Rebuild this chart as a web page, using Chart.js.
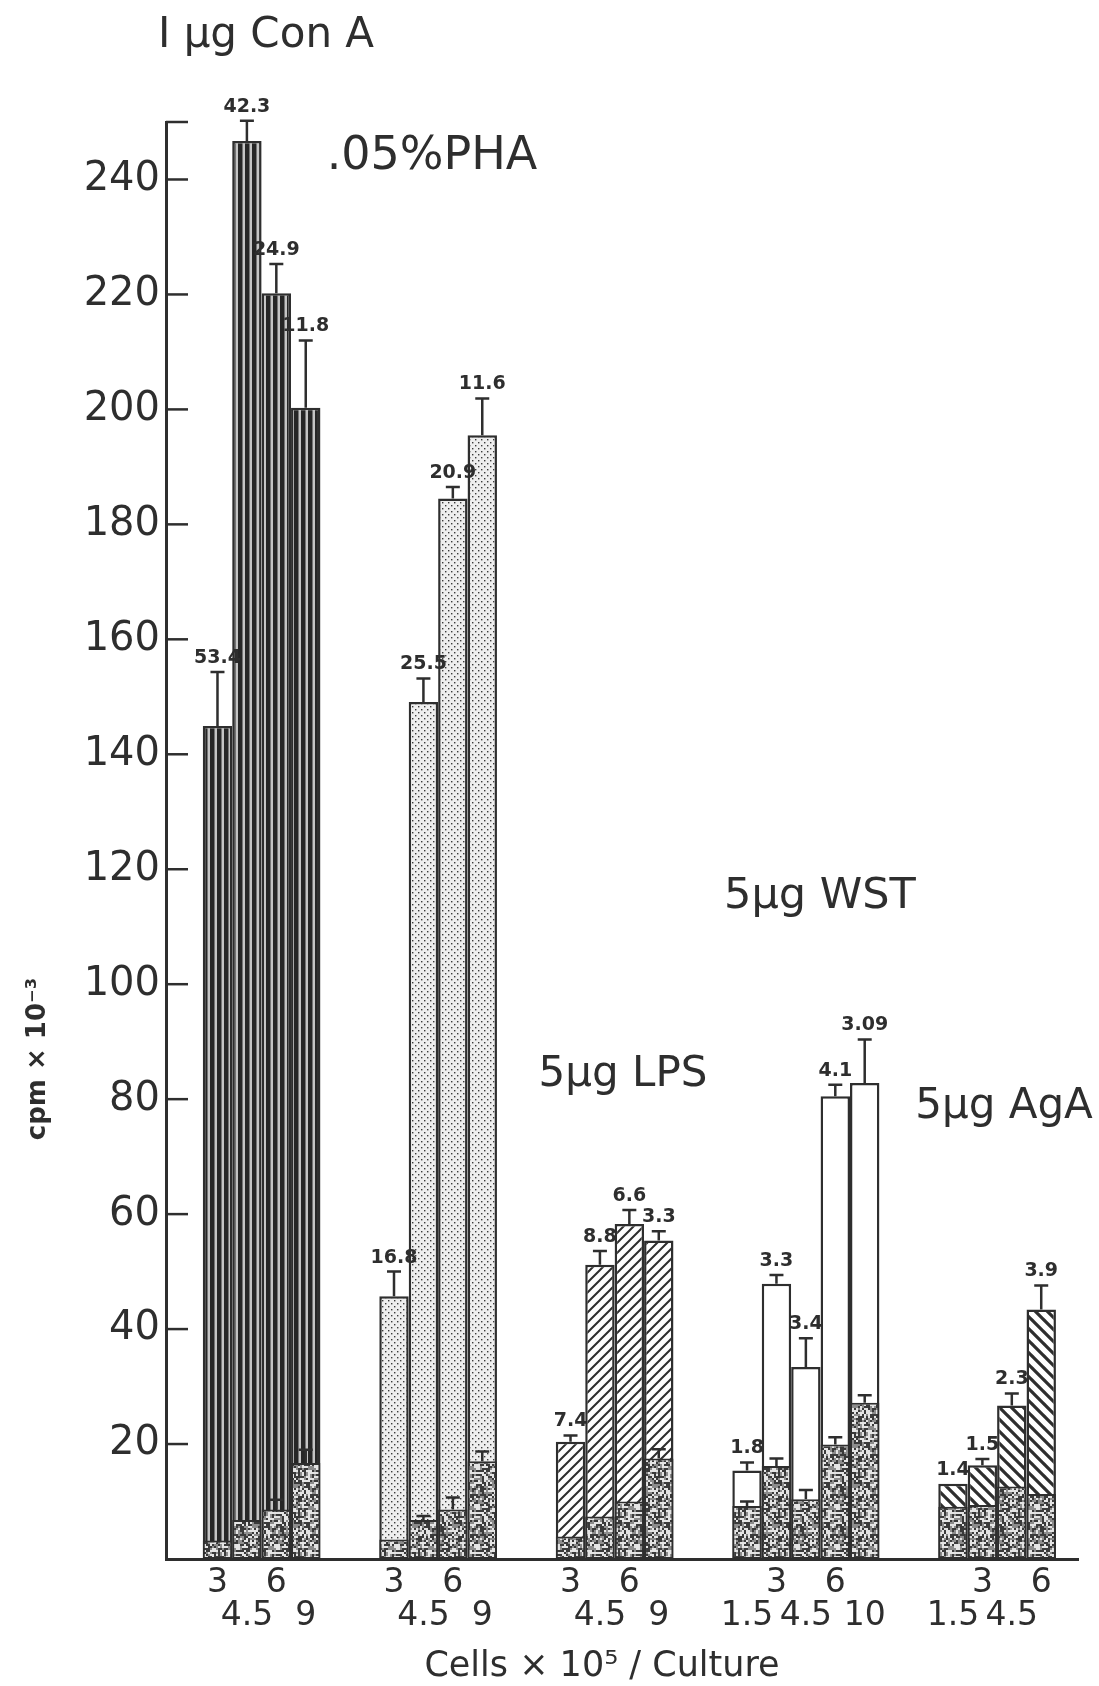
<!DOCTYPE html>
<html>
<head>
<meta charset="utf-8">
<script src="https://cdn.jsdelivr.net/npm/chart.js@4.4.1/dist/chart.umd.min.js"></script>
<style>
  html, body { margin: 0; padding: 0; background: #ffffff; }
  #wrap { width: 1099px; height: 1686px; position: relative; }
  canvas { display: block; }
</style>
</head>
<body>
<div id="wrap"><canvas id="c" width="1099" height="1686"></canvas></div>
<script>
// ---------------- DATA ----------------
const groupNames = ['I µg Con A', '.05%PHA', '5µg LPS', '5µg WST', '5µg AgA'];
const cellCounts = [
  ['3', '4.5', '6', '9'],
  ['3', '4.5', '6', '9'],
  ['3', '4.5', '6', '9'],
  ['1.5', '3', '4.5', '6', '10'],
  ['1.5', '3', '4.5', '6']
];
// 0 = upper row of tick labels, 1 = lower row
const tickRow = [
  [0, 1, 0, 1],
  [0, 1, 0, 1],
  [0, 1, 0, 1],
  [1, 0, 1, 0, 1],
  [1, 0, 1, 0]
];
// stimulated cultures (cpm x 10^-3)
const stimMean = [
  [144.9, 246.7, 220.2, 200.3],
  [45.7, 149.1, 184.5, 195.5],
  [20.4, 51.2, 58.3, 55.4],
  [15.4, 47.9, 33.4, 80.5, 82.8],
  [13.1, 16.3, 26.7, 43.4]
];
const stimErr = [
  [9.4, 3.5, 5.1, 11.7],
  [4.3, 4.1, 2.0, 6.4],
  [1.1, 2.4, 2.4, 1.6],
  [1.4, 1.5, 5.0, 2.0, 7.6],
  [0, 1.1, 2.1, 4.2]
];
// stimulation index printed over each bar
const stimIndexText = [
  ['53.4', '42.3', '24.9', '11.8'],
  ['16.8', '25.5', '20.9', '11.6'],
  ['7.4', '8.8', '6.6', '3.3'],
  ['1.8', '3.3', '3.4', '4.1', '3.09'],
  ['1.4', '1.5', '2.3', '3.9']
];
// unstimulated control cultures (cpm x 10^-3)
const ctrlMean = [
  [3.2, 6.8, 8.6, 16.7],
  [3.4, 6.8, 8.6, 17.0],
  [3.9, 7.4, 10.0, 17.5],
  [9.2, 16.2, 10.4, 19.9, 27.2],
  [9.1, 9.4, 12.6, 11.3]
];
const ctrlErr = [
  [0, 0, 1.7, 2.3],
  [0, 0.7, 2.1, 1.7],
  [0, 0, 0, 1.6],
  [0.8, 1.3, 1.6, 1.3, 1.3],
  [0, 0, 0, 0]
];
const yTickValues = [0, 20, 40, 60, 80, 100, 120, 140, 160, 180, 200, 220, 240, 250];
const yTickText   = ['', '20', '40', '60', '80', '100', '120', '140', '160', '180', '200', '220', '240', ''];
const yMax = 250;

// ---------------- LAYOUT / STYLE ----------------
const INK = '#2e2e2e';
const FONT = '"DejaVu Sans", "Liberation Sans", sans-serif';
const leadSlots = 3;           // half-bar slots before the first bar centre
const gapSlots = [4, 4, 4, 4]; // half-bar slots between groups
const totalSlots = 62;

function tile(w, h, fn) {
  const c = document.createElement('canvas');
  c.width = w; c.height = h;
  const g = c.getContext('2d');
  fn(g, w, h);
  return g.createPattern(c, 'repeat');
}
const patVertical = tile(7, 7, (g) => {
  g.fillStyle = '#c4c4c4'; g.fillRect(0, 0, 7, 7);
  g.fillStyle = '#262626'; g.fillRect(0, 0, 4.5, 7);
});
const patDots = tile(6, 6, (g) => {
  g.fillStyle = '#eeeeee'; g.fillRect(0, 0, 6, 6);
  g.fillStyle = '#3a3a3a';
  g.fillRect(1, 1, 1.4, 1.4); g.fillRect(4, 4, 1.4, 1.4);
});
function hatch(size, lw, dir) {
  return tile(size, size, (g, w) => {
    g.fillStyle = '#ffffff'; g.fillRect(0, 0, w, w);
    g.strokeStyle = INK; g.lineWidth = lw; g.lineCap = 'square';
    g.beginPath();
    for (let o = -w; o <= w; o += w) {
      if (dir > 0) { g.moveTo(o - 1, w + 1); g.lineTo(o + w + 1, -1); }
      else { g.moveTo(o - 1, -1); g.lineTo(o + w + 1, w + 1); }
    }
    g.stroke();
  });
}
const patHatchUp = hatch(10, 2, 1);
const patHatchDown = hatch(12, 3.2, -1);
const patSpeckle = tile(40, 40, (g) => {
  for (let y = 0; y < 40; y += 2) {
    for (let x = 0; x < 40; x += 2) {
      let h = Math.imul(x + 7, 374761393) + Math.imul(y + 3, 668265263);
      h = Math.imul(h ^ (h >>> 13), 1274126177);
      h ^= h >>> 16;
      const v = (h >>> 0) / 4294967296;
      g.fillStyle = v < 0.38 ? '#3a3a3a' : (v < 0.68 ? '#8c8c8c' : '#e4e4e4');
      g.fillRect(x, y, 2, 2);
    }
  }
});
const groupFill = [patVertical, patDots, patHatchUp, '#ffffff', patHatchDown];

// ---------------- BUILD CATEGORY TABLE ----------------
const labels = [];
for (let i = 0; i < totalSlots; i++) labels.push(['', '']);
const stimData = new Array(totalSlots).fill(null);
const ctrlData = new Array(totalSlots).fill(null);
const stimFill = new Array(totalSlots).fill('rgba(0,0,0,0)');
const barSlots = [];
let k = leadSlots;
for (let g = 0; g < cellCounts.length; g++) {
  for (let j = 0; j < cellCounts[g].length; j++) {
    const lab = cellCounts[g][j];
    labels[k] = tickRow[g][j] === 0 ? [lab, ''] : ['', lab];
    stimData[k] = stimMean[g][j];
    ctrlData[k] = ctrlMean[g][j];
    stimFill[k] = groupFill[g];
    barSlots.push({ g, j, idx: k });
    k += 2;
  }
  if (g < gapSlots.length) k += gapSlots[g];
}

// ---------------- ANNOTATION PLUGIN ----------------
const annot = {
  id: 'annot',
  afterDraw(chart) {
    const ctx = chart.ctx;
    const y = chart.scales.y;
    const area = chart.chartArea;
    const mStim = chart.getDatasetMeta(0);
    const mCtrl = chart.getDatasetMeta(1);
    ctx.save();
    ctx.strokeStyle = INK;
    ctx.fillStyle = INK;
    // inward tick marks on value axis
    ctx.lineWidth = 2.5;
    yTickValues.forEach((v) => {
      if (v === 0) return;
      const py = y.getPixelForValue(v);
      ctx.beginPath();
      ctx.moveTo(area.left, py);
      ctx.lineTo(area.left + 22, py);
      ctx.stroke();
    });
    function whisker(x, mean, err) {
      if (!err) return;
      const y0 = y.getPixelForValue(mean);
      const y1 = y.getPixelForValue(mean + err);
      ctx.beginPath();
      ctx.moveTo(x, y0); ctx.lineTo(x, y1);
      ctx.moveTo(x - 7, y1); ctx.lineTo(x + 7, y1);
      ctx.stroke();
    }
    ctx.lineWidth = 2.5;
    barSlots.forEach((b) => {
      const es = mStim.data[b.idx];
      const ec = mCtrl.data[b.idx];
      whisker(ec.x, ctrlMean[b.g][b.j], ctrlErr[b.g][b.j]);
      whisker(es.x, stimMean[b.g][b.j], stimErr[b.g][b.j]);
      const topVal = stimMean[b.g][b.j] + stimErr[b.g][b.j];
      ctx.font = 'bold 19px ' + FONT;
      ctx.textAlign = 'center';
      ctx.textBaseline = 'alphabetic';
      ctx.fillText(stimIndexText[b.g][b.j], es.x, y.getPixelForValue(topVal) - 9);
    });
    // treatment labels
    const groupLabelStyle = [
      { x: 266, y: 36, size: 42 },
      { x: 432, y: 157, size: 46 },
      { x: 623, y: 1075, size: 42 },
      { x: 820, y: 897, size: 43 },
      { x: 1004, y: 1107, size: 42 }
    ];
    ctx.textAlign = 'center';
    ctx.textBaseline = 'middle';
    groupNames.forEach((name, i) => {
      const s = groupLabelStyle[i];
      ctx.font = s.size + 'px ' + FONT;
      ctx.fillText(name, s.x, s.y);
    });
    // axis titles
    ctx.font = '35px ' + FONT;
    ctx.fillText('Cells × 10⁵ / Culture', 602, 1667);
    ctx.save();
    ctx.translate(38, 1059);
    ctx.rotate(-Math.PI / 2);
    ctx.font = 'bold 26px ' + FONT;
    ctx.fillText('cpm × 10⁻³', 0, 0);
    ctx.restore();
    ctx.restore();
  }
};

// ---------------- CHART ----------------
new Chart(document.getElementById('c'), {
  type: 'bar',
  data: {
    labels: labels,
    datasets: [
      {
        label: 'Stimulated',
        data: stimData,
        backgroundColor: stimFill,
        borderColor: INK,
        borderWidth: 2.5,
        borderSkipped: false,
        grouped: false,
        barPercentage: 2,
        categoryPercentage: 1,
        order: 1
      },
      {
        label: 'Control',
        data: ctrlData,
        backgroundColor: patSpeckle,
        borderColor: INK,
        borderWidth: 2,
        borderSkipped: false,
        grouped: false,
        barPercentage: 2,
        categoryPercentage: 1,
        order: 0
      }
    ]
  },
  options: {
    responsive: false,
    devicePixelRatio: 1,
    animation: false,
    events: [],
    layout: { padding: { top: 122, right: 21, left: 0, bottom: 0 } },
    plugins: { legend: { display: false }, tooltip: { enabled: false } },
    scales: {
      x: {
        type: 'category',
        offset: true,
        z: 1,
        grid: { display: false, drawTicks: false },
        border: { display: true, color: INK, width: 3 },
        ticks: {
          autoSkip: false, maxRotation: 0, minRotation: 0, padding: 8,
          color: INK,
          font: { family: FONT, size: 33, lineHeight: 1.0 }
        },
        afterFit(scale) { scale.height = 127; }
      },
      y: {
        min: 0,
        max: yMax,
        z: 1,
        grid: { display: false, drawTicks: false },
        border: { display: true, color: INK, width: 3 },
        afterBuildTicks(scale) { scale.ticks = yTickValues.map((v) => ({ value: v })); },
        ticks: {
          padding: 6,
          color: INK,
          font: { family: FONT, size: 40 },
          callback: (v, i) => yTickText[i]
        },
        afterFit(scale) { scale.width = 166; }
      }
    }
  },
  plugins: [annot]
});
</script>
</body>
</html>
